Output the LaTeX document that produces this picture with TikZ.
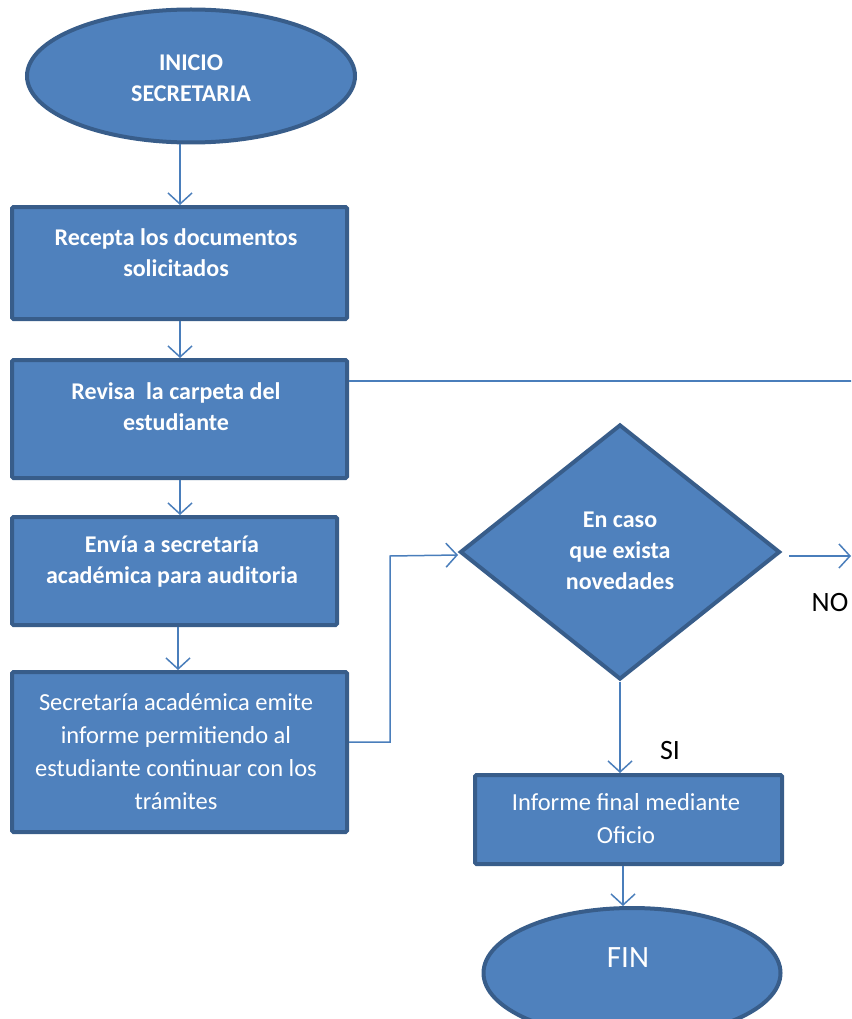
\documentclass[tikz,border=0pt]{standalone}
\usepackage{fontspec}
\setmainfont{Carlito}
\usetikzlibrary{arrows.meta,shapes.geometric,calc}
\definecolor{fillblue}{HTML}{4F81BD}
\definecolor{edgeblue}{HTML}{385D8A}
\definecolor{lineblue}{HTML}{4A7EBB}
\tikzset{
  box/.style={draw=edgeblue, line width=4pt, fill=fillblue, rounded corners=1.5pt, inner sep=0pt, anchor=north west},
  term/.style={ellipse, draw=edgeblue, line width=4pt, fill=fillblue, inner sep=0pt},
  dec/.style={diamond, draw=edgeblue, line width=4pt, fill=fillblue, inner sep=0pt},
  btxt/.style={text=white, font=\fontsize{24}{31}\selectfont\bfseries, align=center},
  rtxt/.style={text=white, font=\fontsize{24.5}{33}\selectfont, align=center},
  lbl/.style={text=black, font=\fontsize{28}{30}\selectfont},
  conn/.style={draw=lineblue, line width=1.5pt, -{Straight Barb[length=11pt,width=24pt,line width=1.5pt]}},
  plain/.style={draw=lineblue, line width=1.5pt}
}
\begin{document}
\begin{tikzpicture}[x=1pt,y=-1pt]
\useasboundingbox (0,0) rectangle (851,1019);
\clip (0,0) rectangle (851,1019);
% terminals and boxes
\node[term, minimum width=328pt, minimum height=133pt] (ini) at (191,76) {};
\node[btxt] (initxt) at (191,78) {INICIO\\SECRETARIA};
\node[box, minimum width=335pt, minimum height=112pt] (b1) at (10,205) {};
\node[btxt] (b1txt) at (176,253) {Recepta los documentos\\solicitados};
\node[box, minimum width=335pt, minimum height=118pt] (b2) at (10,358) {};
\node[btxt] (b2txt) at (176,407) {Revisa\ \ la carpeta del\\estudiante};
\node[box, minimum width=325pt, minimum height=108pt] (b3) at (10,515) {};
\node[btxt] (b3txt) at (172,562) {Envía a secretaría\\académica para auditoria};
\node[box, minimum width=335pt, minimum height=160pt] (b4) at (10,670) {};
\node[rtxt] (b4txt) at (176,752) {Secretaría académica emite\\informe permitiendo al\\estudiante continuar con los\\trámites};
\node[dec, minimum width=320pt, minimum height=255pt] (d) at (620,552) {};
\node[btxt] (dtxt) at (620,551) {En caso\\que exista\\novedades};
\node[box, minimum width=307pt, minimum height=89pt] (b5) at (473,773) {};
\node[rtxt] (b5txt) at (626,819) {Informe final mediante\\Oficio};
\node[term, minimum width=297pt, minimum height=130pt] (fin) at (632,973) {};
\node[rtxt, font=\fontsize{31}{34}\selectfont] (fintxt) at (628,958) {FIN};
% labels
\node[lbl] (no) at (830,603) {NO};
\node[lbl] (si) at (670,751) {SI};
% connectors
\coordinate (rightend) at (853,381);
\coordinate (noend) at (851,556);
\coordinate (k1) at (390,742);
\coordinate (k2) at (390,556);
\draw[conn] (ini.south -| 180,0) -- (b1.north -| 180,0);
\draw[conn] (b1.south -| 180,0) -- (b2.north -| 180,0);
\draw[conn] (b2.south -| 180,0) -- (b3.north -| 180,0);
\draw[conn] (b3.south -| 178,0) -- (b4.north -| 178,0);
\draw[plain] (b2.east |- 0,381) -- (rightend);
\draw[conn] (b4.east |- k1) -- (k1) -- (k2) -- ($(d.west)+(0,3)$);
\draw[conn] ($(d.east)+(7,4)$) -- (noend);
\draw[conn] (d.south) -- (b5.north -| d.south);
\draw[conn] (b5.south -| 623,0) -- (fin.north -| 623,0);
\end{tikzpicture}
\end{document}
